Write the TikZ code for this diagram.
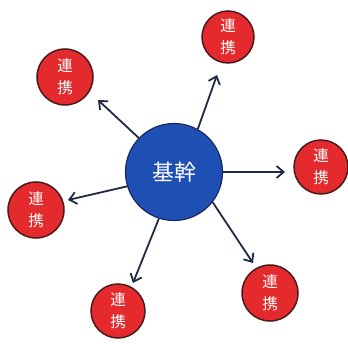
\documentclass[tikz,border=0pt]{standalone}
\usepackage{fontspec}
\newfontfamily\jpfont{Noto Sans CJK JP}
\usetikzlibrary{arrows.meta}
\definecolor{coreblue}{HTML}{1E4FB2}
\definecolor{coreedge}{HTML}{1A2A5E}
\definecolor{satred}{HTML}{E42A2C}
\definecolor{satedge}{HTML}{4A1A1E}
\definecolor{arrowcol}{HTML}{1F2A44}
\tikzset{
  core/.style={circle,fill=coreblue,draw=coreedge,line width=1.2pt,minimum size=97pt,inner sep=0pt,
    text=white,font=\jpfont\fontsize{22}{22}\selectfont},
  sat/.style={circle,fill=satred,draw=satedge,line width=1.5pt,minimum size=#1,inner sep=0pt,
    text=white,align=center,font=\jpfont\fontsize{15.5}{22}\selectfont},
  link/.style={draw=arrowcol,line width=1.8pt,-{Straight Barb[length=7pt,width=12pt,line width=1.8pt]}}
}
\begin{document}
\begin{tikzpicture}[x=1pt,y=1pt]
\useasboundingbox[fill=white] (0,0) rectangle (348,343);
\node[core] (c) at (174,171) {基幹};
\node[sat=56pt] (s1) at (65,266) {連\\携};
\node[sat=52pt] (s2) at (228,306) {連\\携};
\node[sat=54pt] (s3) at (321,176) {連\\携};
\node[sat=56pt] (s4) at (36,133) {連\\携};
\node[sat=56pt] (s5) at (270,50) {連\\携};
\node[sat=54pt] (s6) at (118,32) {連\\携};
\coordinate (t1) at (98,243);
\coordinate (t2) at (217,268);
\coordinate (t3) at (285,171);
\coordinate (t4) at (68,143);
\coordinate (t5) at (253,80);
\coordinate (t6) at (133,60);
\draw[link] (c.136) -- (t1);
\draw[link] (c.61) -- (t2);
\draw[link] (c.0) -- (t3);
\draw[link] (c.197) -- (t4);
\draw[link] (c.322) -- (t5);
\draw[link] (c.252) -- (t6);
\end{tikzpicture}
\end{document}
